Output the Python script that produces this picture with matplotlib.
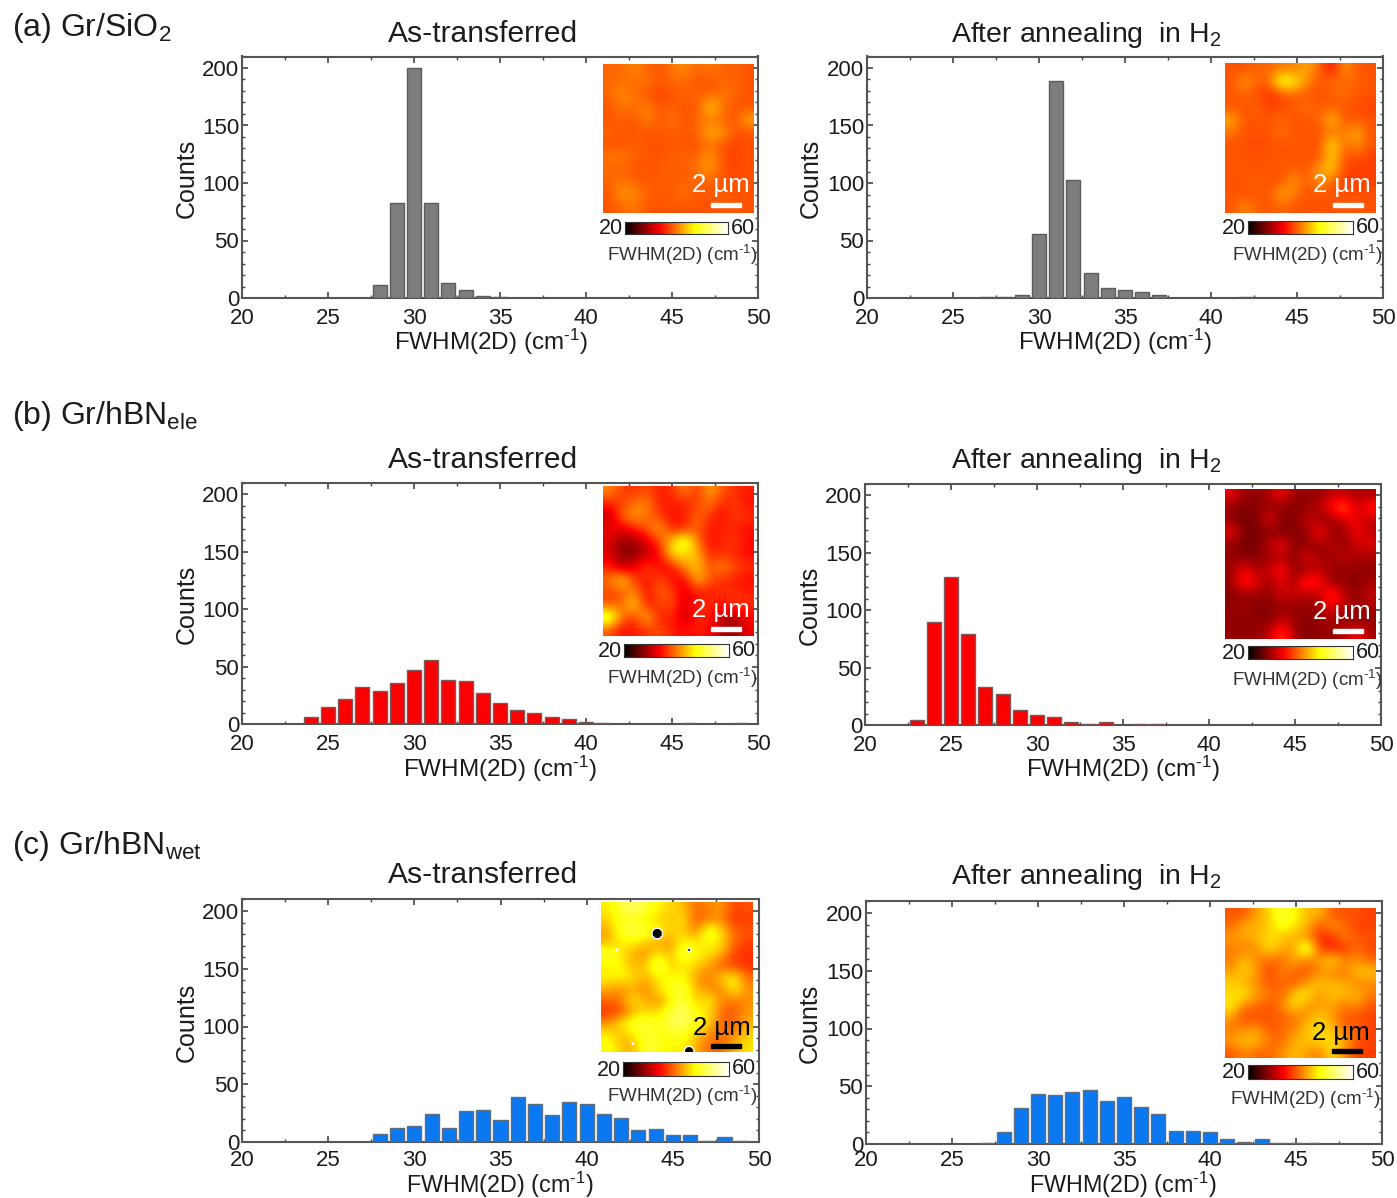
import numpy as np
import matplotlib
matplotlib.use("Agg")
import matplotlib.pyplot as plt
from matplotlib.colors import LinearSegmentedColormap
from matplotlib.patches import Rectangle

plt.rcParams['font.family'] = ['Liberation Sans', 'DejaVu Sans']
plt.rcParams['mathtext.fontset'] = 'custom'
plt.rcParams['mathtext.rm'] = 'Liberation Sans'
plt.rcParams['mathtext.default'] = 'regular'

# ---------- histogram data: FWHM bin centre -> counts ----------
a_left_x = [28, 29, 30, 31, 32, 33, 34, 35]
a_left_y = [11, 83, 200, 83, 13, 7, 2, 1]
a_right_x = [27, 28, 29, 30, 31, 32, 33, 34, 35, 36, 37, 42]
a_right_y = [1, 1, 3, 56, 189, 103, 22, 9, 7, 5, 3, 1]
b_left_x = [24, 25, 26, 27, 28, 29, 30, 31, 32, 33, 34, 35, 36, 37, 38, 39, 40, 41, 46, 49]
b_left_y = [6, 15, 22, 32, 29, 36, 47, 56, 38, 37, 27, 18, 12, 10, 6, 4, 2, 1, 1, 1]
b_right_x = [23, 24, 25, 26, 27, 28, 29, 30, 31, 32, 33, 34, 36, 37]
b_right_y = [4, 90, 129, 79, 33, 27, 13, 9, 7, 3, 1, 3, 1, 1]
c_left_x = [28, 29, 30, 31, 32, 33, 34, 35, 36, 37, 38, 39, 40, 41, 42, 43, 44, 45, 46, 47, 48, 49]
c_left_y = [7, 12, 14, 24, 12, 27, 28, 19, 39, 33, 23, 35, 33, 24, 21, 10, 11, 6, 6, 1, 4, 1]
c_right_x = [27, 28, 29, 30, 31, 32, 33, 34, 35, 36, 37, 38, 39, 40, 41, 42, 43, 44, 45, 46]
c_right_y = [1, 10, 31, 43, 42, 45, 47, 37, 41, 32, 26, 11, 11, 10, 4, 2, 4, 1, 1, 1]

x_ticks = [20, 25, 30, 35, 40, 45, 50]
y_ticks = [0, 50, 100, 150, 200]
titles = ['As-transferred', 'After annealing  in H$_{2}$']
panel_labels = ['(a) Gr/SiO$_{2}$', '(b) Gr/hBN$_{ele}$', '(c) Gr/hBN$_{wet}$']
x_label = 'FWHM(2D) (cm$^{\\text{-}1}$)'
y_label = 'Counts'
bar_label = 'FWHM(2D) (cm$^{\\text{-}1}$)'
scale_label = '2 µm'

# ---------- FWHM maps read by eye (cm^-1), rows top to bottom ----------
map_a_left = [
    [39, 39, 41, 39, 38, 40, 41, 39, 40, 39, 39, 38],
    [39, 40, 39, 40, 38, 39, 39, 38, 38, 39, 39, 38],
    [39, 41, 40, 38, 37, 38, 39, 39, 39, 40, 39, 38],
    [38, 40, 39, 41, 38, 39, 38, 38, 45, 40, 38, 38],
    [38, 39, 38, 41, 38, 40, 38, 39, 40, 39, 38, 43],
    [39, 38, 38, 38, 38, 39, 38, 39, 43, 42, 38, 38],
    [38, 38, 39, 38, 38, 38, 38, 38, 40, 38, 37, 38],
    [40, 40, 39, 38, 38, 39, 39, 39, 42, 38, 37, 38],
    [39, 39, 38, 38, 38, 39, 38, 40, 42, 38, 37, 38],
    [39, 40, 39, 38, 39, 38, 39, 39, 39, 38, 38, 38],
    [38, 42, 41, 39, 38, 39, 40, 38, 38, 39, 38, 38],
    [38, 39, 40, 38, 38, 38, 38, 38, 38, 38, 38, 38],
]
map_a_right = [
    [38, 38, 39, 39, 40, 40, 43, 39, 34, 42, 38, 38],
    [38, 42, 39, 39, 50, 47, 41, 38, 40, 39, 39, 38],
    [38, 39, 38, 36, 37, 39, 38, 38, 38, 40, 38, 38],
    [38, 38, 39, 37, 38, 38, 40, 38, 39, 38, 38, 37],
    [43, 38, 38, 38, 39, 38, 38, 39, 44, 38, 38, 38],
    [40, 38, 38, 38, 40, 38, 38, 38, 40, 40, 43, 38],
    [38, 38, 37, 38, 38, 38, 38, 38, 46, 39, 42, 38],
    [38, 38, 38, 38, 38, 38, 38, 38, 45, 38, 38, 37],
    [38, 38, 38, 38, 38, 39, 38, 42, 45, 37, 37, 37],
    [38, 38, 39, 38, 38, 42, 38, 42, 39, 37, 37, 37],
    [38, 38, 38, 38, 43, 40, 38, 38, 38, 38, 38, 38],
    [38, 41, 39, 38, 39, 38, 38, 38, 38, 38, 38, 38],
]
map_b_left = [
    [41, 37, 36, 38, 35, 36, 41, 36, 43, 38, 36, 35],
    [35, 37, 40, 41, 35, 35, 35, 37, 40, 35, 37, 34],
    [30, 39, 42, 40, 37, 34, 35, 40, 36, 34, 37, 36],
    [33, 32, 35, 38, 43, 35, 36, 39, 34, 36, 35, 34],
    [32, 28, 28, 32, 37, 45, 52, 40, 34, 35, 37, 34],
    [32, 27, 28, 30, 34, 46, 45, 44, 35, 37, 35, 34],
    [35, 30, 32, 38, 33, 34, 42, 44, 38, 41, 38, 36],
    [40, 46, 37, 34, 38, 34, 33, 44, 38, 36, 35, 34],
    [37, 38, 41, 34, 39, 37, 32, 35, 35, 36, 36, 35],
    [38, 39, 46, 34, 37, 38, 31, 35, 36, 34, 37, 36],
    [53, 40, 36, 45, 34, 36, 30, 36, 35, 30, 29, 34],
    [38, 34, 35, 36, 38, 35, 34, 35, 34, 29, 28, 33],
]
map_b_right = [
    [33, 28, 28, 29, 34, 28, 28, 28, 30, 30, 29, 29],
    [28, 27, 27, 28, 28, 27, 28, 30, 35, 40, 30, 36],
    [28, 26, 27, 33, 27, 27, 31, 28, 28, 32, 33, 30],
    [33, 27, 26, 27, 27, 27, 28, 35, 28, 28, 34, 30],
    [28, 26, 27, 30, 34, 27, 28, 28, 30, 28, 31, 32],
    [28, 27, 27, 28, 30, 27, 33, 28, 29, 30, 29, 29],
    [28, 34, 29, 31, 35, 28, 28, 31, 28, 28, 28, 28],
    [28, 36, 33, 28, 33, 28, 38, 34, 28, 28, 27, 29],
    [27, 28, 28, 28, 31, 31, 29, 30, 38, 30, 28, 31],
    [28, 29, 27, 27, 28, 28, 28, 29, 33, 29, 28, 29],
    [28, 27, 28, 27, 31, 28, 27, 28, 29, 28, 27, 28],
    [28, 28, 28, 30, 38, 29, 27, 28, 28, 30, 34, 29],
]
map_c_left = [
    [46, 50, 53, 50, 47, 45, 44, 39, 41, 42, 37, 38],
    [45, 48, 48, 47, 45, 44, 46, 38, 40, 41, 36, 37],
    [42, 49, 51, 50, 47, 45, 45, 40, 51, 45, 39, 38],
    [43, 46, 47, 44, 43, 41, 48, 46, 47, 46, 39, 37],
    [51, 46, 43, 41, 46, 43, 51, 47, 46, 43, 37, 36],
    [46, 48, 43, 44, 53, 44, 46, 45, 42, 38, 37, 36],
    [47, 47, 46, 43, 46, 47, 48, 42, 40, 45, 47, 39],
    [43, 41, 43, 40, 46, 49, 50, 43, 41, 40, 48, 41],
    [39, 40, 46, 43, 41, 46, 51, 44, 47, 41, 40, 41],
    [36, 37, 43, 45, 45, 50, 53, 47, 46, 39, 38, 42],
    [41, 46, 49, 51, 48, 51, 52, 49, 45, 39, 39, 43],
    [47, 43, 46, 50, 47, 49, 49, 44, 41, 39, 41, 45],
    [48, 45, 42, 50, 49, 46, 47, 43, 39, 39, 43, 46],
]
map_c_right = [
    [38, 38, 42, 45, 50, 48, 43, 44, 38, 38, 38, 37],
    [39, 43, 43, 44, 49, 46, 44, 38, 42, 39, 37, 37],
    [42, 42, 43, 46, 44, 43, 41, 36, 36, 41, 38, 38],
    [40, 41, 41, 46, 43, 42, 53, 37, 35, 36, 40, 37],
    [40, 44, 41, 39, 39, 43, 40, 42, 46, 41, 41, 39],
    [42, 45, 42, 37, 41, 39, 38, 41, 41, 39, 45, 44],
    [45, 43, 41, 38, 39, 38, 42, 44, 43, 43, 40, 41],
    [45, 47, 42, 40, 39, 45, 47, 41, 45, 43, 44, 40],
    [47, 40, 39, 38, 40, 46, 41, 42, 42, 40, 41, 38],
    [42, 37, 38, 38, 39, 39, 42, 45, 42, 38, 38, 37],
    [40, 41, 42, 38, 39, 41, 44, 46, 44, 39, 39, 37],
    [42, 44, 44, 40, 39, 43, 44, 45, 46, 43, 38, 37],
    [38, 41, 39, 39, 41, 44, 42, 40, 46, 41, 37, 37],
]
# holes in map (c, left): x, y in map fraction, marker size
hole_x = [0.37, 0.58, 0.58, 0.105, 0.21]
hole_y = [0.79, 0.68, 0.005, 0.68, 0.055]
hole_s = [65, 7, 55, 2, 1.5]

cbar_min, cbar_max = 20, 60

# ---------- layout (reference pixels) ----------
W, H = 1397, 1198
panels = [
    dict(x=a_left_x, y=a_left_y, c='#7d7d7d', e='#5c5c5c', ax=(242, 758, 298, 68), m=map_a_left,
         mb=(603, 754, 64, 213), cb=(625, 728, 222, 234), sc='white', sb=(711, 741, 203, 207),
         st=(721, 185), bl=(682, 255), xl=(491, 342), yl=(187, 178), xs=17.5, pad=7),
    dict(x=a_right_x, y=a_right_y, c='#7d7d7d', e='#5c5c5c', ax=(867, 1383, 298, 68), m=map_a_right,
         mb=(1225, 1376, 63, 213), cb=(1248, 1353, 221, 234), sc='white', sb=(1333, 1363, 203, 207),
         st=(1342, 185), bl=(1307, 255), xl=(1115, 342), yl=(811, 178), xs=17.5, pad=7),
    dict(x=b_left_x, y=b_left_y, c='#fa0000', e='#7a5a5a', ax=(242, 758, 724, 494), m=map_b_left,
         mb=(603, 754, 486, 636), cb=(624, 729, 644, 657), sc='white', sb=(711, 741, 627, 631),
         st=(721, 610), bl=(682, 678), xl=(500, 769), yl=(187, 604), xs=17.5, pad=7),
    dict(x=b_right_x, y=b_right_y, c='#fa0000', e='#7a5a5a', ax=(865, 1381, 725, 495), m=map_b_right,
         mb=(1225, 1376, 489, 639), cb=(1248, 1353, 646, 659), sc='white', sb=(1333, 1363, 629, 633),
         st=(1342, 612), bl=(1307, 680), xl=(1123, 769), yl=(810, 605), xs=17.5, pad=7),
    dict(x=c_left_x, y=c_left_y, c='#0a78f0', e='#5f6f80', ax=(242, 759, 1142, 911), m=map_c_left,
         mb=(601, 753, 902, 1052), cb=(623, 729, 1062, 1076), sc='black', sb=(711, 741, 1044, 1048),
         st=(722, 1028), bl=(682, 1096), xl=(500, 1184.5), yl=(187, 1022), xs=16.8, pad=5.5),
    dict(x=c_right_x, y=c_right_y, c='#0a78f0', e='#5f6f80', ax=(866, 1382, 1144, 913), m=map_c_right,
         mb=(1225, 1376, 908, 1058), cb=(1248, 1353, 1065, 1079), sc='black', sb=(1332, 1362, 1049, 1053),
         st=(1341, 1033), bl=(1305, 1099), xl=(1123, 1184.5), yl=(810, 1023), xs=16.8, pad=4.5),
]
title_pos = [(483, 34), (1086, 35), (483, 460), (1086, 461), (483, 875), (1086, 877)]
title_size = [21.6, 20.5]
label_pos = [(12, 28), (12, 416), (12, 846)]

TXT = '#1c1c1c'
hot = LinearSegmentedColormap.from_list(
    'fwhm', [(0, '#000000'), (0.34, '#ff0000'), (0.68, '#ffff00'), (1, '#ffffff')])

fig = plt.figure(figsize=(W / 100, H / 100), dpi=100, facecolor='white')


def fx(px):
    return px / W


def fy(py):
    return 1 - py / H


def box(x0, x1, ytop, ybot):
    return [fx(x0), fy(ybot), (x1 - x0) / W, (ybot - ytop) / H]


for i, p in enumerate(panels):
    x0, x1, y0, y200 = p['ax']
    top = y0 - (y0 - y200) * 1.05
    ax = fig.add_axes(box(x0, x1, top, y0))
    ax.bar(p['x'], p['y'], width=0.82, color=p['c'], edgecolor=p['e'], linewidth=1.0, zorder=3)
    ax.set_xlim(20, 50)
    ax.set_ylim(0, 210)
    ax.set_xticks(x_ticks)
    ax.set_yticks(y_ticks)
    ax.set_xticks(np.arange(22.5, 50, 5), minor=True)
    ax.set_yticks([v for v in range(0, 211, 10) if v % 50], minor=True)
    ax.tick_params(which='major', direction='in', top=True, right=True, length=4, width=1.2,
                   color='#444444', labelsize=16, labelcolor=TXT, pad=2)
    ax.tick_params(axis='x', which='major', pad=p['pad'])
    ax.tick_params(which='minor', direction='in', top=True, right=True, length=2.5, width=1.0,
                   color='#444444')
    for s in ax.spines.values():
        s.set_color('#555555')
        s.set_linewidth(1.5)
    fig.text(fx(p['xl'][0]), fy(p['xl'][1]), x_label, ha='center', va='center', fontsize=p['xs'], color=TXT)
    fig.text(fx(p['yl'][0]), fy(p['yl'][1]), y_label, ha='center', va='center', rotation=90,
             fontsize=18, color=TXT)

    # map inset
    mx0, mx1, my0, my1 = p['mb']
    im_ax = fig.add_axes(box(mx0, mx1, my0, my1), zorder=5)
    im_ax.imshow(np.array(p['m'], dtype=float), cmap=hot, vmin=cbar_min, vmax=cbar_max,
                 interpolation='bicubic', aspect='auto')
    im_ax.axis('off')
    if p['m'] is map_c_left:
        ov = fig.add_axes(box(mx0, mx1, my0, my1), zorder=6)
        ov.set_xlim(0, 1)
        ov.set_ylim(0, 1)
        ov.axis('off')
        ov.scatter(hole_x, hole_y, s=hole_s, marker='8', c='black', edgecolors='white', linewidths=1.0)

    # scale bar and its label
    sx0, sx1, sy0, sy1 = p['sb']
    fig.add_artist(Rectangle((fx(sx0), fy(sy1)), (sx1 - sx0) / W, (sy1 - sy0) / H,
                             transform=fig.transFigure, color=p['sc'], zorder=7))
    fig.text(fx(p['st'][0]), fy(p['st'][1]), scale_label, ha='center', va='center', fontsize=18.5,
             color=p['sc'], zorder=8)

    # colour bar
    bx0, bx1, by0, by1 = p['cb']
    cb_ax = fig.add_axes(box(bx0, bx1, by0, by1), zorder=5)
    cb_ax.imshow(np.linspace(cbar_min, cbar_max, 256)[None, :], cmap=hot, vmin=cbar_min, vmax=cbar_max,
                 aspect='auto')
    cb_ax.set_xticks([])
    cb_ax.set_yticks([])
    for s in cb_ax.spines.values():
        s.set_linewidth(0.8)
        s.set_color('#333333')
    fig.text(fx(bx0 - 2), fy((by0 + by1) / 2 + 1), str(cbar_min), ha='right', va='center', fontsize=15.5,
             color=TXT, zorder=8)
    fig.text(fx(bx1 + 3), fy((by0 + by1) / 2), str(cbar_max), ha='left', va='center', fontsize=15.5,
             color=TXT, zorder=8)
    fig.text(fx(p['bl'][0]), fy(p['bl'][1]), bar_label, ha='center', va='center', fontsize=13.5,
             color='#333333', zorder=8)

    fig.text(fx(title_pos[i][0]), fy(title_pos[i][1]), titles[i % 2], ha='center', va='center',
             fontsize=title_size[i % 2], color=TXT)

for lab, (lx, ly) in zip(panel_labels, label_pos):
    fig.text(fx(lx), fy(ly), lab, ha='left', va='center', fontsize=23, color=TXT)

fig.savefig('out.png', dpi=100, facecolor='white')
